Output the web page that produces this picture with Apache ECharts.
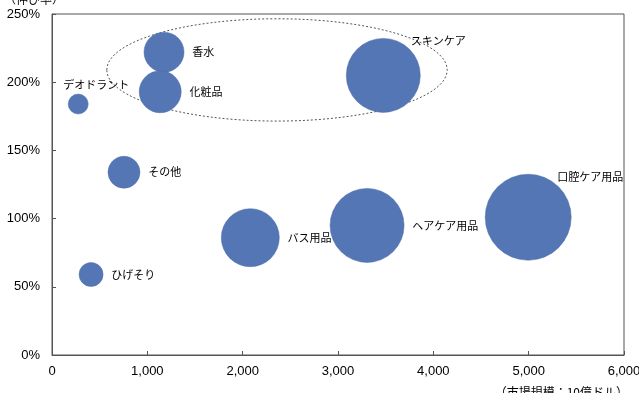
<!DOCTYPE html>
<html lang="ja">
<head>
    <meta charset="utf-8">
    <script src="https://cdn.jsdelivr.net/npm/echarts@6/dist/echarts.min.js"></script>
    <style>
        html, body { margin: 0; padding: 0; background: #fff; }
    </style>
</head>
<body>
<div id="main" style="width: 639px;height:393px;"></div>
<script type="text/javascript">
    // 分野
    var names = ['香水', '化粧品', 'デオドラント', 'スキンケア', 'その他', 'ひげそり', 'バス用品', 'ヘアケア用品', '口腔ケア用品'];
    // 市場規模（10億ドル）
    var marketSize = [1175, 1135, 275, 3475, 755, 410, 2080, 3305, 4995];
    // 伸び率（%）
    var growth = [222, 193, 184, 205, 134, 59, 86, 95, 101];
    // バブルの大きさ
    var bubble = [40, 42, 20, 74, 32, 24, 58, 74, 86];
    // ラベル位置
    var labelPos = ['right', 'right', 'top', 'top', 'right', 'right', 'right', 'right', 'top'];

    var chart = echarts.init(document.getElementById('main'));
    var font = '"Noto Sans CJK JP", sans-serif';

    var points = names.map(function (n, i) {
        var lab = { position: labelPos[i] };
        if (i === 2) { lab.offset = [18, 5]; }
        if (i === 3) { lab.offset = [55, 16]; }
        if (i === 8) { lab.offset = [62, 16]; }
        return {
            name: n,
            value: [marketSize[i], growth[i]],
            symbolSize: bubble[i],
            label: lab
        };
    });

    var option = {
        animation: false,
        grid: {
            left: 52, right: 15, top: 14, bottom: 38,
            outerBoundsMode: 'none', containLabel: false,
            show: true, borderColor: '#555', borderWidth: 1
        },
        xAxis: {
            type: 'value', min: 0, max: 6000, interval: 1000,
            name: '（市場規模：10億ドル）', nameLocation: 'end',
            nameGap: 0,
            nameTextStyle: { fontFamily: font, fontSize: 12, color: '#000', align: 'right', verticalAlign: 'top', padding: [31, -4, 0, 0] },
            axisLine: { show: true, lineStyle: { color: '#555' } },
            axisTick: { show: true, inside: true, length: 4, lineStyle: { color: '#555' } },
            splitLine: { show: false },
            axisLabel: {
                fontFamily: 'Liberation Sans, Arial', fontSize: 13, color: '#000', margin: 10,
                formatter: function (v) { return v.toLocaleString('en-US'); }
            }
        },
        yAxis: {
            type: 'value', min: 0, max: 250, interval: 50,
            name: '（伸び率）', nameLocation: 'end', nameGap: 9,
            nameTextStyle: { fontFamily: font, fontSize: 12, color: '#000', align: 'center', padding: [0, 0, 0, -36] },
            axisLine: { show: true, lineStyle: { color: '#555' } },
            axisTick: { show: true, inside: true, length: 4, lineStyle: { color: '#555' } },
            splitLine: { show: false },
            axisLabel: {
                fontFamily: 'Liberation Sans, Arial', fontSize: 13, color: '#000', margin: 12,
                formatter: '{value}%'
            }
        },
        series: [{
            type: 'scatter',
            data: points,
            itemStyle: {
                color: '#5576b5',
                opacity: 1,
                borderColor: '#4a6aa8',
                borderWidth: 0.5
            },
            label: {
                show: true,
                formatter: '{b}',
                distance: 8,
                fontFamily: font, fontSize: 11, color: '#000'
            }
        }]
    };
    chart.setOption(option);

    // 点線の楕円（香水・化粧品・スキンケアを囲む）
    var c0 = chart.convertToPixel({ gridIndex: 0 }, [2360, 209]);
    var c1 = chart.convertToPixel({ gridIndex: 0 }, [4145, 209]);
    var c2 = chart.convertToPixel({ gridIndex: 0 }, [2360, 246.5]);
    chart.setOption({
        graphic: [{
            type: 'ellipse',
            shape: { cx: c0[0], cy: c0[1], rx: c1[0] - c0[0], ry: c0[1] - c2[1] },
            style: { fill: 'none', stroke: '#555', lineWidth: 1, lineDash: [2, 2] },
            z: 1
        }]
    });
</script>
</body>
</html>
